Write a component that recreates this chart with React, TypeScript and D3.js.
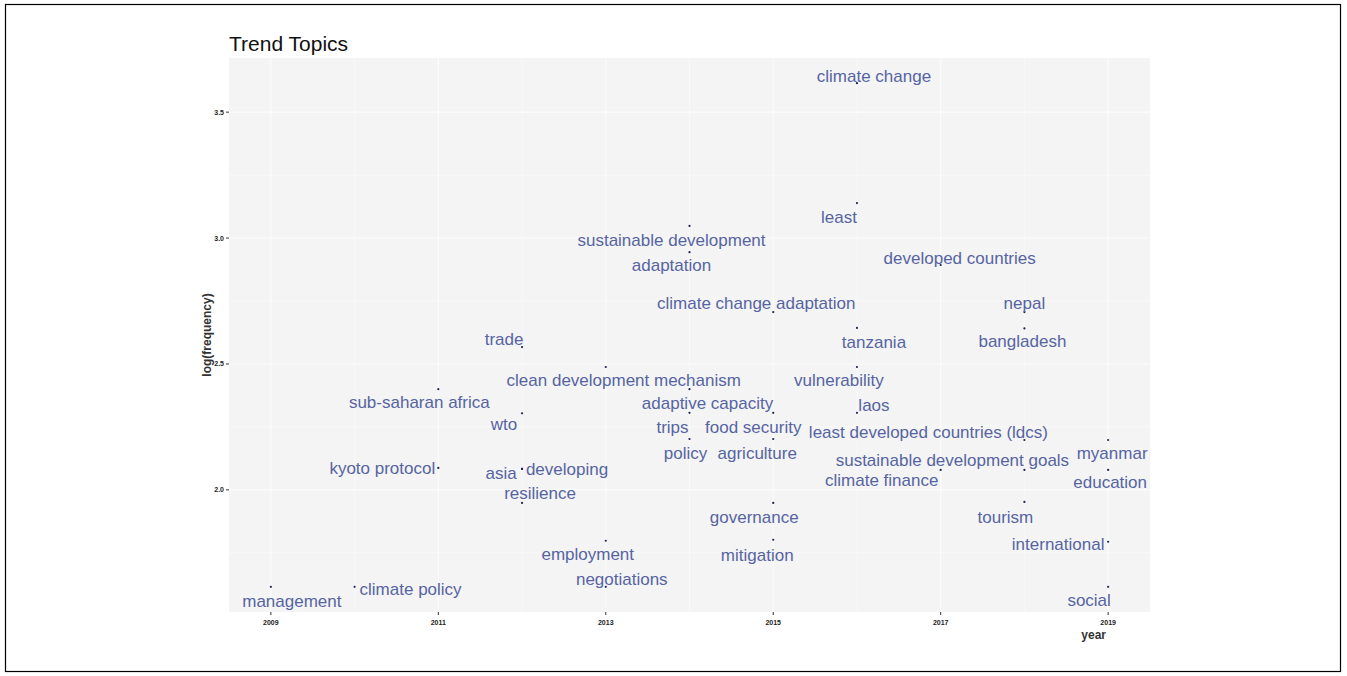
import React, { useEffect } from 'react';
import * as d3 from 'd3';

// terms, the year of their peak and log of their frequency
const terms = [
  'climate change', 'least', 'sustainable development', 'adaptation', 'developed countries',
  'climate change adaptation', 'nepal', 'tanzania', 'bangladesh', 'trade',
  'clean development mechanism', 'vulnerability', 'sub-saharan africa', 'adaptive capacity', 'laos',
  'wto', 'trips', 'food security', 'least developed countries (ldcs)', 'policy',
  'agriculture', 'myanmar', 'sustainable development goals', 'kyoto protocol', 'asia',
  'developing', 'climate finance', 'education', 'resilience', 'governance',
  'tourism', 'international', 'employment', 'mitigation', 'negotiations',
  'climate policy', 'management', 'social',
];
const years = [
  2016, 2016, 2014, 2014, 2017,
  2015, 2018, 2016, 2018, 2012,
  2013, 2016, 2011, 2014, 2016,
  2012, 2014, 2015, 2018, 2014,
  2015, 2019, 2018, 2011, 2012,
  2012, 2017, 2019, 2012, 2015,
  2018, 2019, 2013, 2015, 2013,
  2010, 2009, 2019,
];
const logFreq = [
  3.615, 3.139, 3.048, 2.944, 2.893,
  2.706, 2.706, 2.643, 2.641, 2.567,
  2.488, 2.488, 2.400, 2.400, 2.306,
  2.304, 2.306, 2.306, 2.198, 2.202,
  2.202, 2.198, 2.079, 2.087, 2.083,
  2.083, 2.079, 2.079, 1.948, 1.948,
  1.952, 1.794, 1.798, 1.802, 1.615,
  1.615, 1.615, 1.615,
];
const xTicks = [2009, 2011, 2013, 2015, 2017, 2019];
const yTicks = [2.0, 2.5, 3.0, 3.5];

// where the repelled labels ended up, in pixels from their point
const labelNudge: Record<string, [number, number]> = {
  'climate change': [17, -7],
  'least': [-18, 14],
  'sustainable development': [-18, 14],
  'adaptation': [-18, 13],
  'developed countries': [19, -7],
  'climate change adaptation': [-17, -9],
  'nepal': [0, -9],
  'tanzania': [17, 14],
  'bangladesh': [-2, 13],
  'trade': [-18, -8],
  'clean development mechanism': [18, 13],
  'vulnerability': [-18, 13],
  'sub-saharan africa': [-19, 13],
  'adaptive capacity': [18, 14],
  'laos': [17, -8],
  'wto': [-18, 11],
  'trips': [-17, 14],
  'food security': [-20, 14],
  'least developed countries (ldcs)': [-96, -8],
  'policy': [-4, 14],
  'agriculture': [-16, 14],
  'myanmar': [4, 13],
  'sustainable development goals': [-72, -10],
  'kyoto protocol': [-56, 0],
  'asia': [-21, 4],
  'developing': [45, 0],
  'climate finance': [-59, 10],
  'education': [2, 12],
  'resilience': [18, -10],
  'governance': [-19, 14],
  'tourism': [-19, 15],
  'international': [-50, 2],
  'employment': [-18, 13],
  'mitigation': [-16, 15],
  'negotiations': [16, -8],
  'climate policy': [56, 2],
  'management': [21, 14],
  'social': [-19, 13],
};

const W = 1347;
const H = 676;
const panel = { left: 229, right: 1150, top: 58, bottom: 612 };

export default function App() {
  useEffect(() => {
    document.body.style.margin = '0';
  }, []);

  const x = d3.scaleLinear().domain([2008.5, 2019.5]).range([panel.left, panel.right]);
  const y = d3.scaleLinear().domain([1.515, 3.715]).range([panel.bottom, panel.top]);

  const xMinor = d3.range(2010, 2019, 2);
  const yMinor = [1.75, 2.25, 2.75, 3.25];
  const font = '"Liberation Sans", Arial, sans-serif';

  return (
    <svg width={W} height={H} style={{ display: 'block', background: '#fff' }} fontFamily={font}>
      <rect x={5.5} y={4.5} width={1335} height={667} fill="#fff" stroke="#000" strokeWidth={1.2} />

      {/* panel */}
      <rect x={panel.left} y={panel.top} width={panel.right - panel.left} height={panel.bottom - panel.top} fill="#f4f4f5" />
      {xMinor.map((v) => (
        <line key={'xm' + v} x1={x(v)} x2={x(v)} y1={panel.top} y2={panel.bottom} stroke="#fbfbfb" strokeWidth={0.6} />
      ))}
      {yMinor.map((v) => (
        <line key={'ym' + v} x1={panel.left} x2={panel.right} y1={y(v)} y2={y(v)} stroke="#fbfbfb" strokeWidth={0.6} />
      ))}
      {xTicks.map((v) => (
        <line key={'xg' + v} x1={x(v)} x2={x(v)} y1={panel.top} y2={panel.bottom} stroke="#fcfcfc" strokeWidth={1.1} />
      ))}
      {yTicks.map((v) => (
        <line key={'yg' + v} x1={panel.left} x2={panel.right} y1={y(v)} y2={y(v)} stroke="#fcfcfc" strokeWidth={1.1} />
      ))}

      {/* axes */}
      {xTicks.map((v) => (
        <g key={'xt' + v}>
          <line x1={x(v)} x2={x(v)} y1={panel.bottom} y2={panel.bottom + 3} stroke="#333" strokeWidth={1} />
          <text x={x(v)} y={panel.bottom + 13} fontSize={7} fontWeight="bold" fill="#222" textAnchor="middle">{v}</text>
        </g>
      ))}
      {yTicks.map((v) => (
        <g key={'yt' + v}>
          <line x1={panel.left - 3} x2={panel.left} y1={y(v)} y2={y(v)} stroke="#333" strokeWidth={1} />
          <text x={panel.left - 5} y={y(v)} dy="0.35em" fontSize={7} fontWeight="bold" fill="#222" textAnchor="end">{v.toFixed(1)}</text>
        </g>
      ))}
      <text x={1106} y={639} fontSize={12} fontWeight="bold" fill="#333" textAnchor="end">year</text>
      <text transform={`translate(211, ${(panel.top + panel.bottom) / 2}) rotate(-90)`} fontSize={12} fontWeight="bold" fill="#333" textAnchor="middle">log(frequency)</text>
      <text x={panel.left} y={51} fontSize={21} fill="#111">Trend Topics</text>

      {/* points and labels */}
      {terms.map((t, i) => {
        const [dx, dy] = labelNudge[t] || [0, 0];
        return (
          <g key={t}>
            <circle cx={x(years[i])} cy={y(logFreq[i])} r={1.1} fill="#1c2450" />
            <text x={x(years[i]) + dx} y={y(logFreq[i]) + dy} dy="0.35em" fontSize={17} fill="#5664a2" textAnchor="middle">{t}</text>
          </g>
        );
      })}
    </svg>
  );
}
